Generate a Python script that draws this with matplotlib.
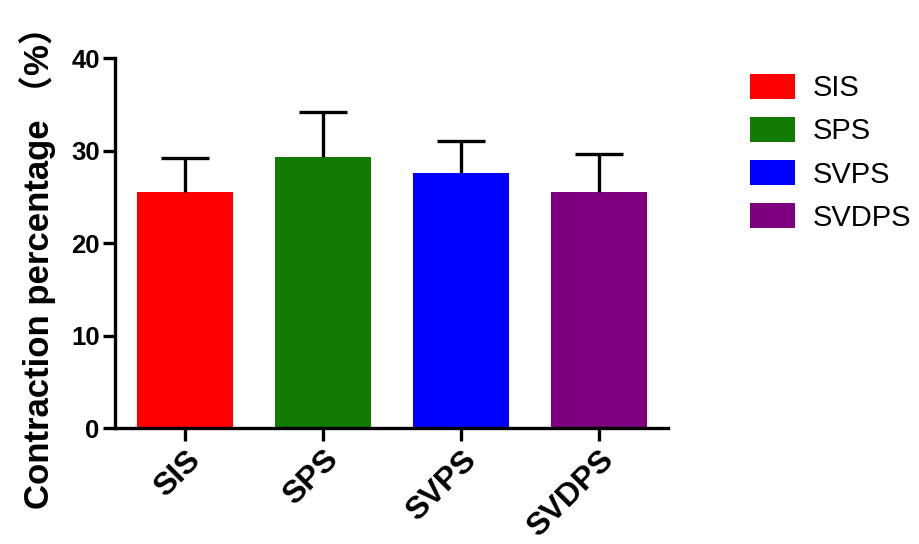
import matplotlib
matplotlib.use("Agg")
import matplotlib.pyplot as plt
import matplotlib.transforms as mtransforms
from matplotlib.patches import Patch

categories = ["SIS", "SPS", "SVPS", "SVDPS"]
means = [25.5, 29.3, 27.6, 25.5]
errors = [3.7, 4.9, 3.4, 4.1]
colors = ["#ff0000", "#117a00", "#0000ff", "#7f007f"]
yticks = [0, 10, 20, 30, 40]

plt.rcParams['font.family'] = ['Liberation Sans', 'Noto Sans CJK SC', 'DejaVu Sans']

fig = plt.figure(figsize=(9.2, 5.44), dpi=100)
ax = fig.add_axes([0.125, 0.213, 0.601, 0.680])

x = list(range(len(categories)))
ax.bar(x, means, width=0.70, color=colors, zorder=2)
eb = ax.errorbar(x, means, yerr=[[0]*len(errors), errors], fmt='none', ecolor='black',
                 elinewidth=2.4, capsize=17.5, capthick=2.4, zorder=3)
# show only the upper caps
eb[1][0].set_visible(False)

ax.set_xlim(-0.507, 3.5)
ax.set_ylim(0, 40)
ax.set_yticks(yticks)
ax.set_yticklabels([str(v) for v in yticks], fontsize=18.5, fontweight='bold')
ax.set_xticks(x)
ax.set_xticklabels(categories, rotation=45, ha='right', rotation_mode='anchor',
                   fontsize=23, fontweight='bold')
offset = mtransforms.ScaledTranslation(3/72, 0, fig.dpi_scale_trans)
for lab in ax.get_xticklabels():
    lab.set_transform(lab.get_transform() + offset)
for s in ['top', 'right']:
    ax.spines[s].set_visible(False)
for s in ['left', 'bottom']:
    ax.spines[s].set_linewidth(2.4)
ax.tick_params(axis='both', width=2.4, length=9, pad=2)
ax.tick_params(axis='x', pad=3)
ax.set_ylabel("Contraction percentage （%）", fontsize=25, fontweight='bold')
ax.yaxis.set_label_coords(-0.106, 0.457)

handles = [Patch(facecolor=c, label=l) for c, l in zip(colors, categories)]
leg = fig.legend(handles=handles, loc='upper left', bbox_to_anchor=(0.787, 0.913),
                 frameon=False, fontsize=21, handlelength=1.55, handleheight=0.95,
                 labelspacing=0.5, handletextpad=0.6)

fig.savefig("out.png", dpi=100)
